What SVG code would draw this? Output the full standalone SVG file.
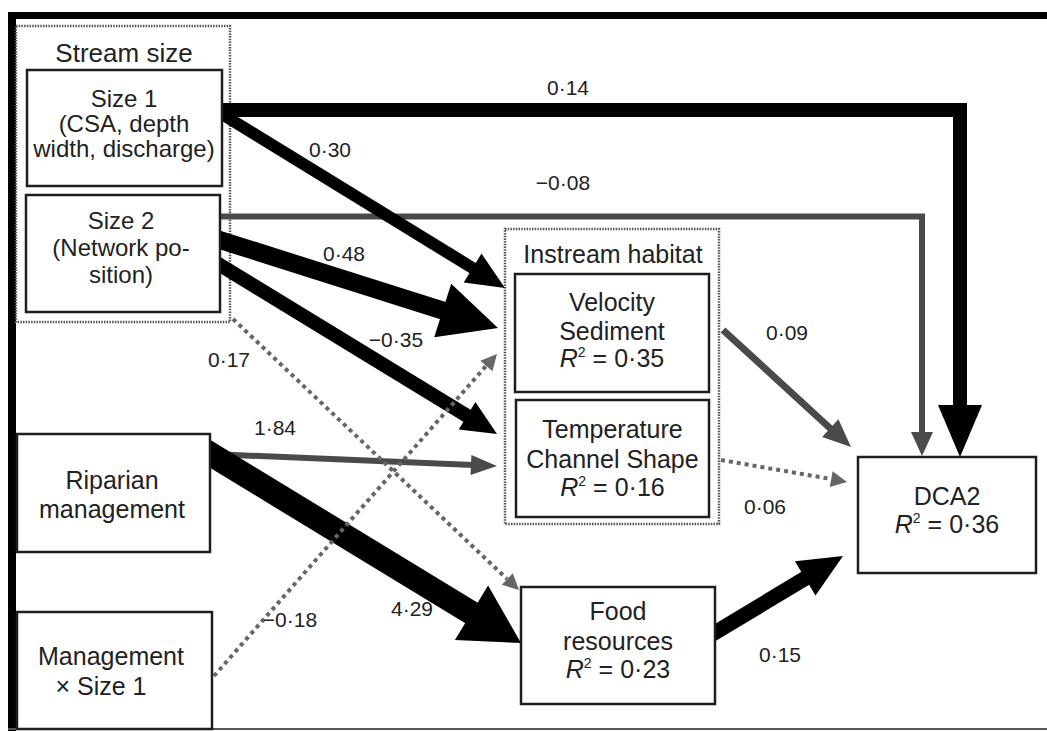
<svg xmlns="http://www.w3.org/2000/svg" width="1047" height="731" viewBox="0 0 1047 731">
  <style>
    .bg{fill:#fff}
    .frame{fill:#000}
    .box{fill:#fff;stroke:#1e1e1e;stroke-width:2.5}
    .grp{fill:none;stroke:#555;stroke-width:2.5;stroke-dasharray:1.5 1.2}
    .t{font-family:"Liberation Sans",Arial,Helvetica,sans-serif;font-size:25px;fill:#222;text-anchor:middle}
    .s{font-size:24px}
    .h{font-size:26px}
    .lbl{font-family:"Liberation Sans",Arial,Helvetica,sans-serif;font-size:21px;fill:#222;text-anchor:middle}
    .blk{stroke:#000;fill:none;stroke-linejoin:miter}
    .gry{stroke:#4a4a4a;fill:none;stroke-linejoin:miter}
    .dot{stroke:#666;stroke-width:4;stroke-dasharray:4 4;fill:none}
    .hb{fill:#000}
    .hg{fill:#4a4a4a}
    .hd{fill:#666}
  </style>

  <rect class="bg" x="0" y="0" width="1047" height="731"/>

  <!-- outer frame -->
  <g id="frame">
    <rect class="frame" x="8" y="12" width="1039" height="7"/>
    <rect class="frame" x="8" y="12" width="8" height="719"/>
    <line x1="8" y1="729" x2="1047" y2="729" stroke="#555" stroke-width="2"/>
  </g>

  <!-- grouping boxes (drawn behind the paths) -->
  <g id="stream-size">
    <rect class="grp" x="16" y="26" width="214" height="296"/>
    <text class="t h" x="124" y="62">Stream size</text>
  </g>
  <g id="instream-habitat">
    <rect class="grp" x="505" y="229" width="214" height="295"/>
    <text class="t" x="613" y="263">Instream habitat</text>
  </g>

  <!-- paths between variables -->
  <g id="connectors">
    <!-- Size 1 -> DCA2 -->
    <path class="blk" stroke-width="14" d="M215,110 H960 V410"/>
    <polygon class="hb" points="938,405 982,405 960,457"/>
    <!-- Size 2 -> DCA2 -->
    <path class="gry" stroke-width="6" d="M215,216.5 H922 V436"/>
    <polygon class="hg" points="911,432 933,432 922,456"/>
    <!-- Size 1 -> Velocity/Sediment -->
    <line class="blk" stroke-width="12" x1="212" y1="108" x2="475" y2="269.5"/>
    <polygon class="hb" points="505,288 463.7,282.6 481.5,253.6"/>
    <!-- Size 2 -> Velocity/Sediment -->
    <line class="blk" stroke-width="18" x1="210.5" y1="237" x2="444.6" y2="311.1"/>
    <polygon class="hb" points="498,328 434.2,337.2 451.2,283.8"/>
    <!-- Size 2 -> Temperature/Channel shape -->
    <line class="blk" stroke-width="14" x1="211.5" y1="259.8" x2="469" y2="417"/>
    <polygon class="hb" points="497,434 458.8,429.5 475.4,402.1"/>
    <!-- Riparian management -> Temperature/Channel shape -->
    <line class="gry" stroke-width="6" x1="200" y1="453.6" x2="473" y2="465"/>
    <polygon class="hg" points="497,466 470.6,474.9 471.4,454.9"/>
    <!-- Riparian management -> Food resources -->
    <line class="blk" stroke-width="24" x1="201.8" y1="448.8" x2="474" y2="614.4"/>
    <polygon class="hb" points="521,643 454.9,640.1 488.1,585.5"/>
    <!-- Stream size -> Food resources (dotted) -->
    <line class="dot" x1="233" y1="319" x2="507" y2="579"/>
    <polygon class="hd" points="519,590 501.8,584.8 512.8,573.2"/>
    <!-- Management x Size 1 -> Velocity/Sediment (dotted) -->
    <line class="dot" x1="214" y1="676" x2="486" y2="366"/>
    <polygon class="hd" points="497,354 492.4,371.3 480.4,360.7"/>
    <!-- Velocity/Sediment -> DCA2 -->
    <line class="gry" stroke-width="7" x1="723" y1="330" x2="832" y2="430"/>
    <polygon class="hg" points="851,447 822.2,437 838.4,419.2"/>
    <!-- Temperature/Channel shape -> DCA2 (dotted) -->
    <line class="dot" x1="721" y1="460" x2="831" y2="479"/>
    <polygon class="hd" points="847,482 829.8,487.1 832.6,471.3"/>
    <!-- Food resources -> DCA2 -->
    <line class="blk" stroke-width="15" x1="705" y1="638.6" x2="807" y2="577.3"/>
    <polygon class="hb" points="843,556 815.5,595.6 794.9,561.2"/>
  </g>

  <!-- path coefficients -->
  <g id="coefficients">
    <text class="lbl" x="568" y="95">0·14</text>
    <text class="lbl" x="563" y="190">−0·08</text>
    <text class="lbl" x="330" y="157">0·30</text>
    <text class="lbl" x="344" y="261">0·48</text>
    <text class="lbl" x="396" y="347">−0·35</text>
    <text class="lbl" x="229" y="367">0·17</text>
    <text class="lbl" x="275" y="435">1·84</text>
    <text class="lbl" x="412" y="616">4·29</text>
    <text class="lbl" x="290" y="627">−0·18</text>
    <text class="lbl" x="787" y="340">0·09</text>
    <text class="lbl" x="765" y="514">0·06</text>
    <text class="lbl" x="780" y="662">0·15</text>
  </g>

  <!-- variables -->
  <g id="size1">
    <rect class="box" x="27" y="70" width="195" height="116"/>
    <text class="t s" x="124" y="107">Size 1</text>
    <text class="t s" x="124" y="132">(CSA, depth</text>
    <text class="t s" x="124" y="157">width, discharge)</text>
  </g>
  <g id="size2">
    <rect class="box" x="26" y="195" width="194" height="117"/>
    <text class="t s" x="121" y="229">Size 2</text>
    <text class="t s" x="121" y="256">(Network po-</text>
    <text class="t s" x="121" y="283">sition)</text>
  </g>
  <g id="velocity-sediment">
    <rect class="box" x="515" y="274" width="194" height="118"/>
    <text class="t" x="612" y="311">Velocity</text>
    <text class="t" x="612" y="340">Sediment</text>
    <text class="t" x="612" y="367"><tspan font-style="italic">R</tspan><tspan dy="-10" font-size="14">2</tspan><tspan dy="10"> = 0·35</tspan></text>
  </g>
  <g id="temperature-channel">
    <rect class="box" x="516" y="400" width="193" height="117"/>
    <text class="t" x="612.5" y="438">Temperature</text>
    <text class="t" x="612.5" y="468">Channel Shape</text>
    <text class="t" x="612.5" y="496"><tspan font-style="italic">R</tspan><tspan dy="-10" font-size="14">2</tspan><tspan dy="10"> = 0·16</tspan></text>
  </g>
  <g id="riparian-management">
    <rect class="box" x="17" y="434" width="193" height="118"/>
    <text class="t" x="112" y="489">Riparian</text>
    <text class="t" x="112" y="518">management</text>
  </g>
  <g id="management-x-size1">
    <rect class="box" x="17" y="612" width="195" height="117"/>
    <text class="t" x="111" y="665">Management</text>
    <text class="t" x="101" y="695">× Size 1</text>
  </g>
  <g id="food-resources">
    <rect class="box" x="521" y="587" width="194" height="117"/>
    <text class="t" x="618" y="620">Food</text>
    <text class="t" x="618" y="650">resources</text>
    <text class="t" x="618" y="678"><tspan font-style="italic">R</tspan><tspan dy="-10" font-size="14">2</tspan><tspan dy="10"> = 0·23</tspan></text>
  </g>
  <g id="dca2">
    <rect class="box" x="858" y="457" width="178" height="116"/>
    <text class="t" x="947" y="505">DCA2</text>
    <text class="t" x="947" y="533"><tspan font-style="italic">R</tspan><tspan dy="-10" font-size="14">2</tspan><tspan dy="10"> = 0·36</tspan></text>
  </g>
</svg>
